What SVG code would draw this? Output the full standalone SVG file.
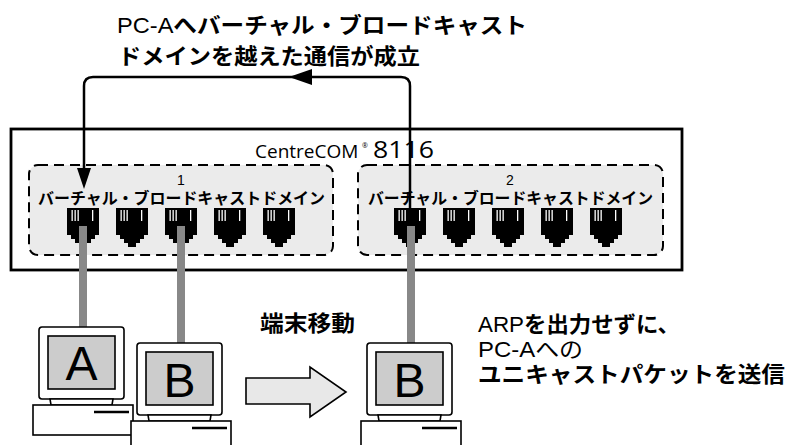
<svg xmlns="http://www.w3.org/2000/svg" xmlns:xlink="http://www.w3.org/1999/xlink" width="792" height="445" viewBox="0 0 792 445">
  <style>
    .jp { font-family: "Liberation Sans", "Noto Sans CJK JP", sans-serif; fill: #000; }
    .b { font-weight: bold; }
    .n { font-weight: normal; }
    .domain { fill: #ebebeb; stroke: #000; stroke-width: 2; stroke-dasharray: 10 6; }
    .wire { fill: none; stroke: #000; stroke-width: 2.5; }
    .cable { stroke: #888; stroke-width: 8; }
    .case { fill: #fff; stroke: #000; stroke-width: 1.6; }
    .screen { fill: #cccccc; stroke: #000; stroke-width: 1.6; }
    .slot { stroke: #000; stroke-width: 2.5; }
    .letter { font-family: "Liberation Sans", sans-serif; font-size: 48px; fill: #000; }
    .logo { font-family: "Open Sans", "DejaVu Sans", sans-serif; fill: #000; }
  </style>
  <defs>
    <!-- RJ-45 jack: black body with contact slits -->
    <g id="jack">
      <path d="M0,0 H32 V27 H28 V31 H24 V35 H20 V39 H12 V35 H8 V31 H4 V27 H0 Z" fill="#000"/>
      <g fill="#fff">
        <rect x="4.5" y="2" width="1.3" height="11"/>
        <rect x="7.5" y="2" width="1.3" height="11"/>
        <rect x="10.5" y="2" width="1.3" height="11"/>
        <rect x="25" y="2" width="1.3" height="11"/>
      </g>
    </g>
    <!-- desktop PC: monitor, neck and base unit -->
    <g id="pc-body">
      <rect class="case" x="0" y="0" width="85" height="72" rx="3"/>
      <rect class="screen" x="9" y="9" width="67" height="53"/>
      <path class="case" d="M11,72 H74 L73,78 H12 Z"/>
      <rect class="case" x="-6" y="78" width="100" height="30"/>
      <line class="slot" x1="55" y1="85" x2="90" y2="85"/>
    </g>
  </defs>

  <rect width="792" height="445" fill="#fff"/>

  <!-- title -->
  <g id="title">
    <text class="jp b" x="117" y="33" font-size="22" textLength="410" lengthAdjust="spacingAndGlyphs"><tspan class="n">PC-A</tspan>へバーチャル・ブロードキャスト</text>
    <text class="jp b" x="118" y="64" font-size="22" textLength="302" lengthAdjust="spacingAndGlyphs">ドメインを越えた通信が成立</text>
  </g>

  <!-- switch chassis with model badge -->
  <g id="switch">
    <rect x="11" y="129" width="671" height="141" fill="#fff" stroke="#000" stroke-width="2.8"/>
    <text class="logo" y="158"><tspan x="255" font-size="19">CentreCOM</tspan><tspan x="362" y="148" font-size="7">®</tspan><tspan x="373" y="158" font-size="23" textLength="61" lengthAdjust="spacingAndGlyphs">8116</tspan></text>
  </g>

  <g id="domain1">
    <rect class="domain" x="29" y="165" width="304" height="90" rx="9"/>
    <text class="jp" x="181" y="185" font-size="14" text-anchor="middle">1</text>
    <text class="jp b" x="38" y="204" font-size="16" textLength="287" lengthAdjust="spacingAndGlyphs">バーチャル・ブロードキャストドメイン</text>
    <use xlink:href="#jack" x="67" y="208"/>
    <use xlink:href="#jack" x="116" y="208"/>
    <use xlink:href="#jack" x="165" y="208"/>
    <use xlink:href="#jack" x="214" y="208"/>
    <use xlink:href="#jack" x="263" y="208"/>
  </g>

  <g id="domain2">
    <rect class="domain" x="358" y="165" width="305" height="90" rx="9"/>
    <text class="jp" x="510" y="185" font-size="14" text-anchor="middle">2</text>
    <text class="jp b" x="368" y="204" font-size="16" textLength="285" lengthAdjust="spacingAndGlyphs">バーチャル・ブロードキャストドメイン</text>
    <use xlink:href="#jack" x="394" y="208"/>
    <use xlink:href="#jack" x="443" y="208"/>
    <use xlink:href="#jack" x="492" y="208"/>
    <use xlink:href="#jack" x="541" y="208"/>
    <use xlink:href="#jack" x="590" y="208"/>
  </g>

  <!-- connectors: traffic path and patch cables -->
  <g id="connectors">
    <path class="wire" d="M410,228 V86 Q410,77 401,77 H93 Q84,77 84,86 V172"/>
    <polygon points="289,77 312,69 312,85" fill="#000"/>
    <polygon points="84,189 77,168 91,168" fill="#000"/>
    <line class="cable" x1="83" y1="226" x2="83" y2="327"/>
    <line class="cable" x1="181" y1="226" x2="181" y2="343"/>
    <line class="cable" x1="411" y1="226" x2="411" y2="343"/>
  </g>

  <g id="pc-a">
    <use xlink:href="#pc-body" x="39" y="327"/>
    <text class="letter" x="81.5" y="380" text-anchor="middle">A</text>
  </g>

  <g id="pc-b">
    <use xlink:href="#pc-body" x="137" y="343"/>
    <text class="letter" x="179.5" y="397" text-anchor="middle">B</text>
  </g>

  <g id="move">
    <text class="jp b" x="260" y="331" font-size="22" textLength="95" lengthAdjust="spacingAndGlyphs">端末移動</text>
    <polygon points="246,378 310,378 310,367 346,392 310,417 310,404 246,404" fill="#e8e8e8" stroke="#000" stroke-width="1.6"/>
  </g>

  <g id="pc-b-moved">
    <use xlink:href="#pc-body" x="367" y="343"/>
    <text class="letter" x="409.5" y="397" text-anchor="middle">B</text>
  </g>

  <g id="note">
    <text class="jp b" x="478" y="332" font-size="22" textLength="202" lengthAdjust="spacingAndGlyphs"><tspan class="n">ARP</tspan>を出力せずに、</text>
    <text class="jp n" x="478" y="357" font-size="22" textLength="105" lengthAdjust="spacingAndGlyphs">PC-Aへの</text>
    <text class="jp b" x="478" y="382" font-size="22" textLength="307" lengthAdjust="spacingAndGlyphs">ユニキャストパケットを送信</text>
  </g>
</svg>
